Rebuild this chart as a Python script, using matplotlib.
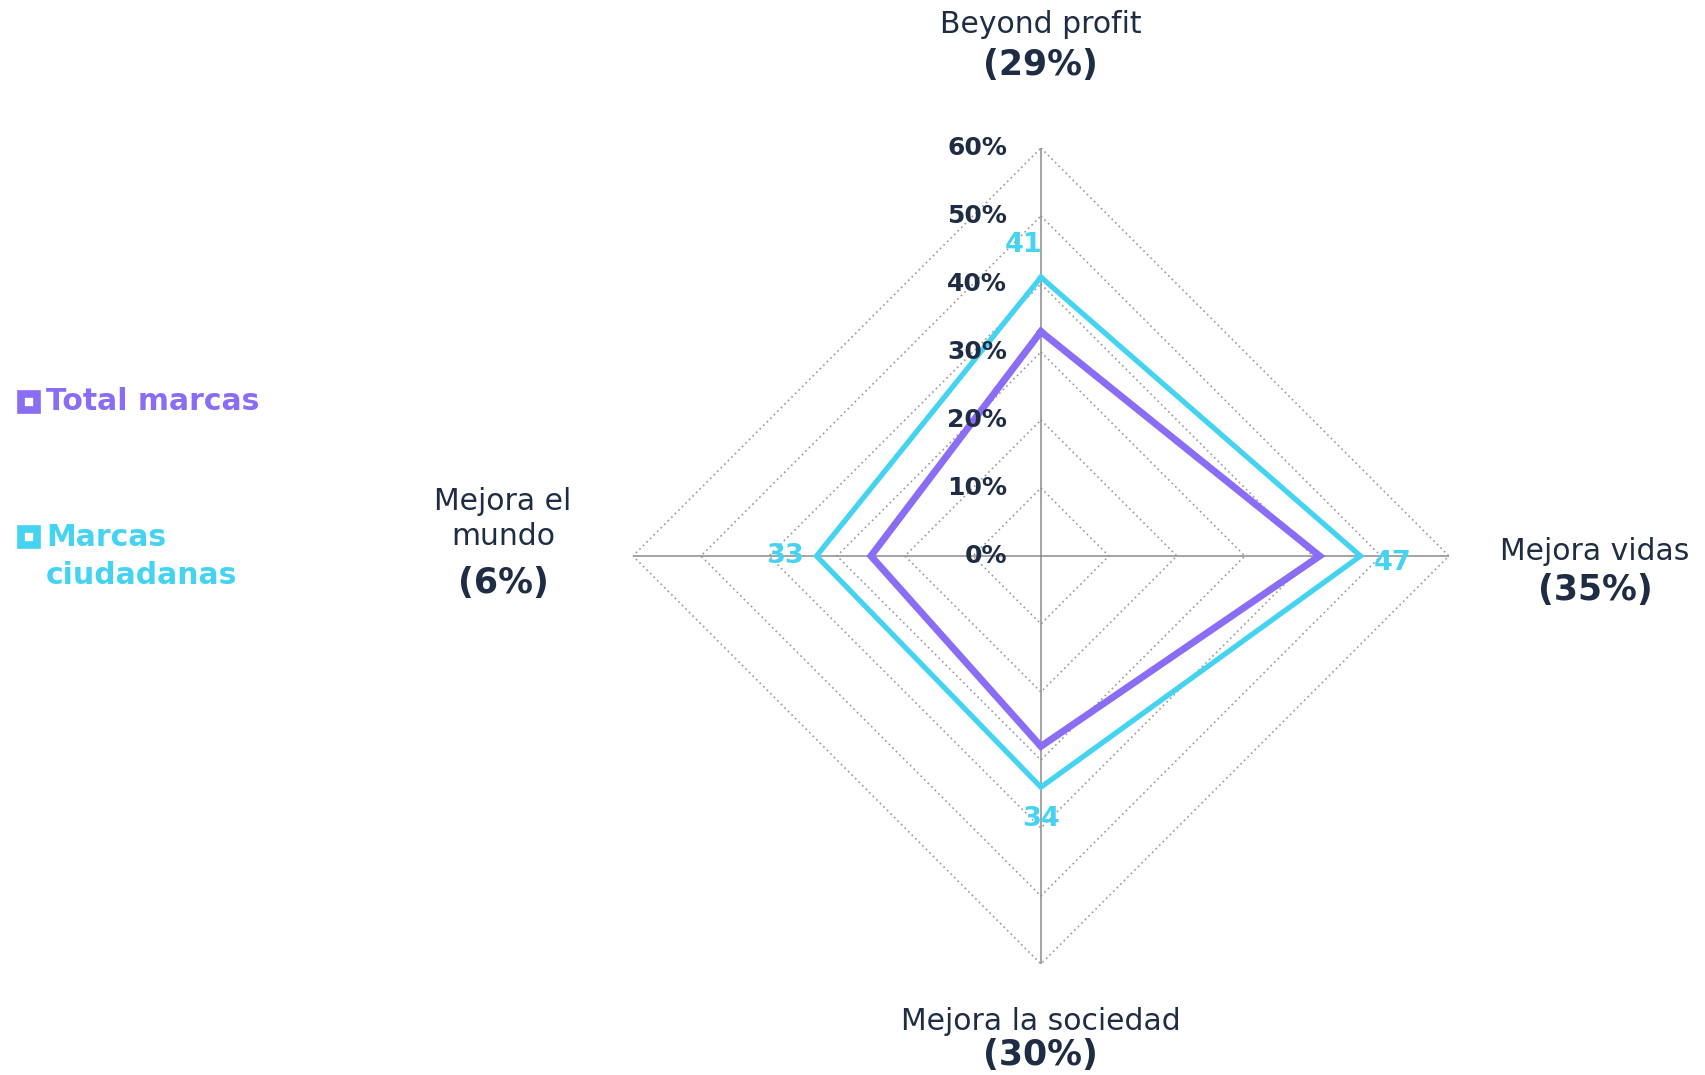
import numpy as np
import matplotlib.pyplot as plt

plt.rcParams['font.family'] = ['DejaVu Sans']

# datos
categories = ['Beyond profit', 'Mejora vidas', 'Mejora la sociedad', 'Mejora el\nmundo']
cat_share = ['(29%)', '(35%)', '(30%)', '(6%)']
total_marcas = [33, 41, 28, 25]
marcas_ciudadanas = [41, 47, 34, 33]
ticks = [0, 10, 20, 30, 40, 50, 60]
series_names = ['Total marcas', 'Marcas\nciudadanas']

c_total = '#8A6CF5'
c_ciud = '#45D3F2'
c_text = '#1F2D44'
r_max = 60

# arriba, derecha, abajo, izquierda
angles = np.pi / 2 - np.arange(len(categories)) * np.pi / 2
dx = np.round(np.cos(angles), 6)
dy = np.round(np.sin(angles), 6)

fig = plt.figure(figsize=(17.06, 10.75), dpi=100)
ax = fig.add_axes([0.371, 0.1033, 0.4783, 0.759])
ax.set_xlim(-r_max, r_max)
ax.set_ylim(-r_max, r_max)
ax.set_aspect('equal')
ax.axis('off')

# rejilla en rombo
for t in ticks[1:]:
    ax.plot(np.append(dx, dx[0]) * t, np.append(dy, dy[0]) * t,
            color='#9a9a9a', lw=1.2, ls=(0, (1, 2)), zorder=1)
for x, y in zip(dx, dy):
    ax.plot([0, x * r_max], [0, y * r_max], color='#8c8c8c', lw=1.1, zorder=1)

# series
for vals, col, lw in [(total_marcas, c_total, 5.0), (marcas_ciudadanas, c_ciud, 3.8)]:
    v = np.array(vals, dtype=float)
    ax.plot(np.append(dx * v, dx[0] * v[0]), np.append(dy * v, dy[0] * v[0]),
            color=col, lw=lw, solid_joinstyle='miter', zorder=3)

# etiquetas de valor (Marcas ciudadanas)
for i, v in enumerate(marcas_ciudadanas):
    x, y = dx[i] * (v + 4.7), dy[i] * (v + 4.7)
    if i == 0:
        x -= 2.5
    if i == 1:
        y -= 1.0
    ax.text(x, y, str(v), color=c_ciud, fontsize=19.5, fontweight='bold',
            ha='center', va='center', zorder=4)

# ticks radiales
for t in ticks:
    ax.text(-5.0, t, f'{t}%', color=c_text, fontsize=18, fontweight='bold',
            ha='right', va='center', zorder=4)

# etiquetas de categoría
name_pos = [(0, 78.2), (81.5, 0.6), (0, -68.4), (-79.1, 5.4)]
share_pos = [(0, 72.2), (81.5, -5.0), (0, -73.4), (-79.1, -4.0)]
for i in range(len(categories)):
    ax.text(*name_pos[i], categories[i], color=c_text, fontsize=21.5,
            ha='center', va='center', linespacing=1.25, clip_on=False)
    ax.text(*share_pos[i], cat_share[i], color=c_text, fontsize=25,
            fontweight='bold', ha='center', va='center', clip_on=False)

# leyenda
leg_y = [1 - 402 / 1075, 1 - 537 / 1075]
for name, col, y in zip(series_names, [c_total, c_ciud], leg_y):
    fig.lines.append(plt.Line2D([29 / 1706], [y], marker='s', markersize=12,
                                markerfacecolor='white', markeredgecolor=col,
                                markeredgewidth=5.5, transform=fig.transFigure))
    for k, line in enumerate(name.split('\n')):
        fig.text(46 / 1706, y - k * 39 / 1075, line, color=col, fontsize=21.5,
                 fontweight='bold', ha='left', va='center')

fig.savefig('out.png', dpi=100)
